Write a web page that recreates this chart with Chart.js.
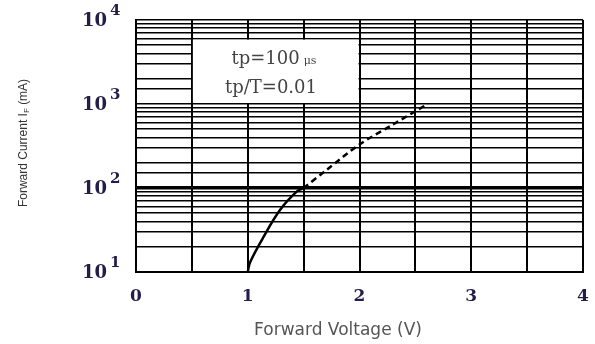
<!DOCTYPE html>
<html>
<head>
<meta charset="utf-8">
<script src="https://cdn.jsdelivr.net/npm/chart.js@4.4.1/dist/chart.umd.min.js"></script>
<style>
  html, body { margin: 0; padding: 0; background: #fff; }
  #wrap { width: 595px; height: 344px; position: relative; }
</style>
</head>
<body>
<div id="wrap"><canvas id="myChart"></canvas></div>
<script>
// measured curve, solid part (V, mA)
const solidV = [1.0, 1.02, 1.14, 1.29, 1.44, 1.5];
const solidI = [10, 13, 26, 55, 91, 100];
// dashed extension
const dashV = [1.5, 1.71, 2.0, 2.28, 2.61];
const dashI = [100, 166, 330, 550, 1000];

const xTickLabels = [0, 1, 2, 3, 4];
const yPowers = [1, 2, 3, 4];
const noteLines = ['tp=100', 'μs', 'tp/T=0.01'];

const toPts = (xs, ys) => xs.map((x, i) => ({ x: x, y: ys[i] }));

// white box with the pulse conditions, plus log labels and axis titles
const drawExtras = {
    id: 'drawExtras',
    beforeDatasetsDraw(chart) {
        const ctx = chart.ctx;
        const xs = chart.scales.x, ys = chart.scales.y;
        const l = xs.getPixelForValue(0.5) + 1, r = xs.getPixelForValue(2.0) - 1;
        const t = ys.getPixelForValue(6000) + 1, b = ys.getPixelForValue(1000) - 1;
        ctx.save();
        ctx.fillStyle = '#fff';
        ctx.fillRect(l, t, r - l, b - t);

        ctx.fillStyle = '#444';
        ctx.textBaseline = 'alphabetic';
        ctx.font = '18px "DejaVu Serif"';
        const w1 = ctx.measureText(noteLines[0]).width;
        ctx.font = '11px "DejaVu Serif"';
        const w2 = ctx.measureText(noteLines[1]).width;
        let sx = 274 - (w1 + 4 + w2) / 2;
        ctx.font = '18px "DejaVu Serif"';
        ctx.fillText(noteLines[0], sx, 64);
        ctx.font = '11px "DejaVu Serif"';
        ctx.fillText(noteLines[1], sx + w1 + 4, 64);
        ctx.font = '18px "DejaVu Serif"';
        ctx.textAlign = 'center';
        ctx.fillText(noteLines[2], 271, 93);
        ctx.restore();
    },
    afterDraw(chart) {
        const ctx = chart.ctx;
        const ys = chart.scales.y;
        ctx.save();
        ctx.fillStyle = '#231d4a';
        yPowers.forEach(p => {
            const y = ys.getPixelForValue(Math.pow(10, p));
            ctx.textBaseline = 'middle';
            ctx.textAlign = 'right';
            ctx.font = 'bold 18px "DejaVu Serif"';
            ctx.fillText('10', 107, y + 1);
            ctx.textAlign = 'left';
            ctx.font = 'bold 15px "DejaVu Serif"';
            ctx.fillText(String(p), 110, y - 9);
        });

        // x title
        ctx.fillStyle = '#555';
        ctx.textAlign = 'center';
        ctx.textBaseline = 'middle';
        ctx.font = '17px "DejaVu Sans"';
        ctx.fillText('Forward Voltage (V)', 338, 331);

        // y title with subscript
        ctx.fillStyle = '#333';
        ctx.translate(24, 143);
        ctx.rotate(-Math.PI / 2);
        const big = '12px "Liberation Sans Narrow", "Liberation Sans"';
        const small = '8px "Liberation Sans Narrow", "Liberation Sans"';
        const a = 'Forward Current I', s = 'F', c = ' (mA)';
        ctx.font = big;
        const wa = ctx.measureText(a).width, wc = ctx.measureText(c).width;
        ctx.font = small;
        const ws = ctx.measureText(s).width;
        let x0 = -(wa + ws + wc) / 2;
        ctx.textAlign = 'left';
        ctx.font = big;
        ctx.fillText(a, x0, 0);
        ctx.font = small;
        ctx.fillText(s, x0 + wa, 3);
        ctx.font = big;
        ctx.fillText(c, x0 + wa + ws, 0);
        ctx.restore();
    }
};

const ctx = document.getElementById('myChart').getContext('2d');
const chartObj = new Chart(ctx, {
    type: 'scatter',
    data: {
        datasets: [{
            data: toPts(solidV, solidI),
            showLine: true,
            borderColor: '#000',
            borderWidth: 2.5,
            pointRadius: 0,
            tension: 0.35
        }, {
            data: toPts(dashV, dashI),
            showLine: true,
            borderColor: '#000',
            borderWidth: 2.5,
            borderDash: [6, 4],
            pointRadius: 0,
            tension: 0.3
        }]
    },
    options: {
        responsive: true,
        maintainAspectRatio: false,
        animation: false,
        layout: { padding: { top: 20, right: 12, left: 0, bottom: 0 } },
        plugins: {
            legend: { display: false },
            tooltip: { enabled: false }
        },
        scales: {
            x: {
                type: 'linear',
                min: 0,
                max: 4,
                afterFit: s => {
                    s.height = 72;
                    s.paddingLeft = 0;
                    s.paddingRight = 0;
                },
                ticks: {
                    stepSize: 0.5,
                    padding: 14,
                    color: '#231d4a',
                    font: { family: 'DejaVu Serif', size: 17, weight: 'bold' },
                    maxRotation: 0,
                    autoSkip: false,
                    callback: v => xTickLabels.includes(v) ? String(v) : ''
                },
                grid: { color: '#000', lineWidth: 2, drawTicks: false },
                border: { color: '#000', width: 2 }
            },
            y: {
                type: 'logarithmic',
                min: 10,
                max: 10000,
                afterFit: s => { s.width = 136; },
                ticks: { display: false },
                grid: {
                    color: '#000',
                    drawTicks: false,
                    lineWidth: c => (c.tick && c.tick.value === 100) ? 3.5 : 1.6
                },
                border: { color: '#000', width: 2 }
            }
        }
    },
    plugins: [drawExtras]
});
</script>
</body>
</html>
